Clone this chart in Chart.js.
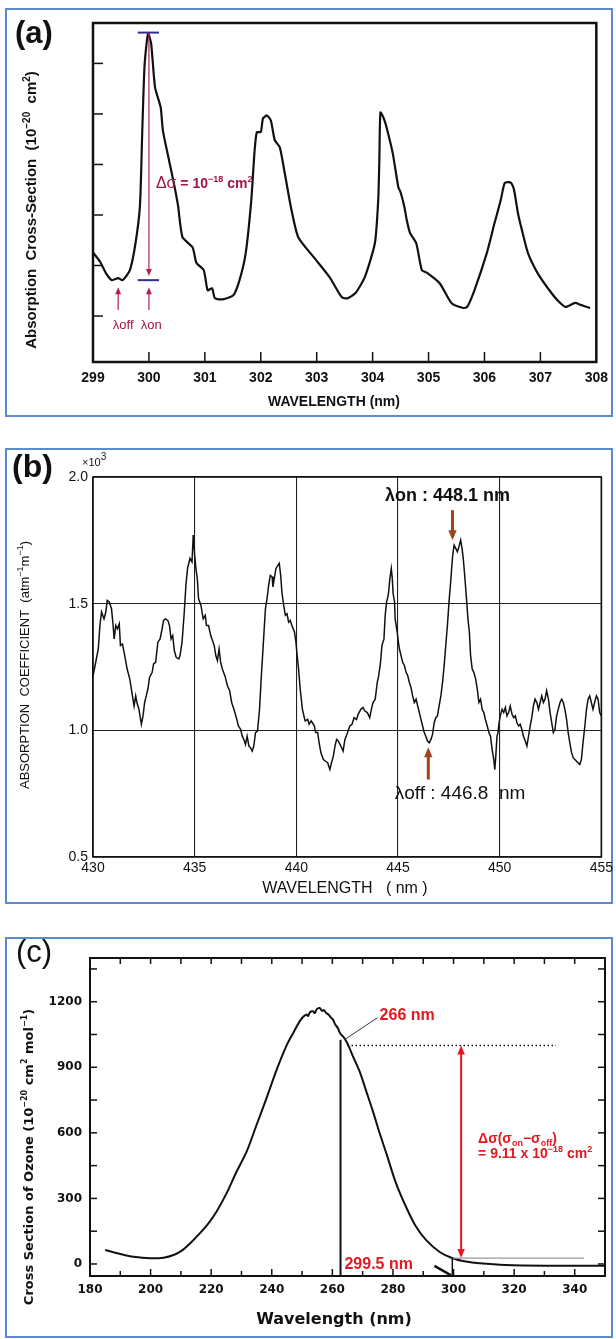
<!DOCTYPE html>
<html>
<head>
<meta charset="utf-8">
<title>Absorption spectra (a) (b) (c)</title>
<script src="https://cdn.jsdelivr.net/npm/chart.js@4.4.0/dist/chart.umd.min.js"></script>
<style>
  html, body { margin: 0; padding: 0; background: #fff; }
  #page { position: relative; width: 616px; height: 1339px; overflow: hidden; }
  .box { position: absolute; left: 5px; width: 608px; border: 2px solid #5b8ad0; box-sizing: border-box; }
  canvas { position: absolute; left: 0; }
</style>
</head>
<body>
<div id="page">
  <div class="box" style="top:8px;height:409px"></div>
  <div class="box" style="top:448px;height:456px"></div>
  <div class="box" style="top:937px;height:401px"></div>
  <canvas id="chartA" width="616" height="408" style="top:8px"></canvas>
  <canvas id="chartB" width="616" height="455" style="top:448px"></canvas>
  <canvas id="chartC" width="616" height="402" style="top:937px"></canvas>
</div>
<script>
const SANS = "'Liberation Sans', Arial, sans-serif";
const DEJA = "'DejaVu Sans', Verdana, sans-serif";

// (a) absorption cross-section around 300 nm (no y numbers in the original)
const waveA = [299.00, 299.13, 299.23, 299.34, 299.45, 299.53, 299.66, 299.76, 299.84, 299.88,
  299.92, 299.97, 299.99, 300.04, 300.11, 300.21, 300.25, 300.36, 300.46, 300.52,
  300.60, 300.78, 300.85, 300.98, 301.05, 301.13, 301.18, 301.32, 301.51, 301.62,
  301.73, 301.83, 301.89, 301.93, 302.00, 302.04, 302.11, 302.18, 302.25, 302.34,
  302.43, 302.54, 302.67, 302.95, 303.23, 303.45, 303.55, 303.69, 303.86, 304.04,
  304.10, 304.12, 304.14, 304.20, 304.25, 304.36, 304.46, 304.50, 304.57, 304.61,
  304.67, 304.78, 304.88, 304.98, 305.20, 305.41, 305.62, 305.69, 305.82, 306.04,
  306.18, 306.29, 306.36, 306.43, 306.48, 306.53, 306.60, 306.67, 306.78, 306.95,
  307.16, 307.30, 307.45, 307.62, 307.72, 307.89];
const crossA = [2.26, 2.07, 1.85, 1.71, 1.75, 1.71, 1.91, 2.44, 3.19, 4.62,
  5.92, 6.51, 6.59, 6.39, 5.52, 5.13, 4.67, 4.08, 3.55, 3.19,
  2.56, 2.36, 2.05, 1.91, 1.51, 1.55, 1.35, 1.33, 1.41, 1.71,
  2.24, 3.29, 4.28, 4.64, 4.64, 4.91, 4.97, 4.87, 4.48, 4.34,
  3.82, 3.15, 2.56, 2.16, 1.77, 1.37, 1.35, 1.45, 1.77, 2.44,
  3.29, 4.08, 5.03, 4.91, 4.73, 4.22, 3.55, 3.45, 3.15, 2.90,
  2.64, 2.44, 1.91, 1.85, 1.65, 1.26, 1.16, 1.18, 1.51, 2.24,
  2.84, 3.29, 3.63, 3.65, 3.63, 3.49, 3.03, 2.70, 2.24, 1.85,
  1.51, 1.32, 1.18, 1.26, 1.22, 1.16];
const ticksXA = [299, 300, 301, 302, 303, 304, 305, 306, 307, 308];
const ticksYA = [1, 2, 3, 4, 5, 6];

// (b) absorption coefficient, x10^3 atm-1 m-1
const waveB = [430.00, 430.10, 430.26, 430.34, 430.42, 430.54, 430.63, 430.70, 430.80, 430.91,
  430.99, 431.04, 431.12, 431.20, 431.29, 431.35, 431.45, 431.56, 431.68, 431.81,
  431.94, 432.02, 432.10, 432.16, 432.26, 432.38, 432.46, 432.54, 432.62, 432.70,
  432.78, 432.91, 432.98, 433.08, 433.19, 433.30, 433.40, 433.47, 433.56, 433.68,
  433.76, 433.84, 433.92, 434.00, 434.09, 434.22, 434.28, 434.38, 434.49, 434.57,
  434.65, 434.77, 434.87, 434.93, 435.00, 435.06, 435.13, 435.19, 435.31, 435.42,
  435.52, 435.58, 435.68, 435.79, 435.88, 435.96, 436.04, 436.12, 436.20, 436.28,
  436.36, 436.49, 436.61, 436.72, 436.82, 436.93, 437.05, 437.15, 437.26, 437.34,
  437.42, 437.50, 437.58, 437.67, 437.75, 437.83, 437.91, 437.99, 438.09, 438.19,
  438.28, 438.40, 438.48, 438.56, 438.64, 438.72, 438.81, 438.85, 438.94, 439.00,
  439.10, 439.16, 439.23, 439.29, 439.38, 439.46, 439.54, 439.62, 439.70, 439.78,
  439.91, 439.98, 440.04, 440.11, 440.19, 440.30, 440.43, 440.56, 440.63, 440.73,
  440.79, 440.89, 440.95, 441.05, 441.12, 441.21, 441.33, 441.44, 441.54, 441.65,
  441.73, 441.82, 441.90, 441.98, 442.06, 442.19, 442.30, 442.39, 442.52, 442.63,
  442.74, 442.84, 442.96, 443.04, 443.17, 443.28, 443.36, 443.49, 443.61, 443.69,
  443.77, 443.88, 443.98, 444.05, 444.14, 444.21, 444.31, 444.37, 444.44, 444.50,
  444.54, 444.60, 444.67, 444.72, 444.76, 444.83, 444.86, 444.91, 444.96, 445.02,
  445.07, 445.15, 445.23, 445.32, 445.40, 445.48, 445.56, 445.64, 445.72, 445.80,
  445.89, 445.97, 446.05, 446.13, 446.21, 446.29, 446.37, 446.45, 446.54, 446.62,
  446.70, 446.78, 446.86, 446.94, 447.02, 447.11, 447.19, 447.27, 447.35, 447.43,
  447.51, 447.59, 447.64, 447.69, 447.76, 447.84, 447.92, 448.00, 448.08, 448.15,
  448.21, 448.28, 448.33, 448.38, 448.44, 448.51, 448.57, 448.65, 448.73, 448.82,
  448.90, 448.98, 449.06, 449.14, 449.22, 449.30, 449.39, 449.47, 449.55, 449.63,
  449.71, 449.76, 449.81, 449.87, 449.92, 449.97, 450.03, 450.12, 450.20, 450.28,
  450.36, 450.44, 450.52, 450.61, 450.69, 450.77, 450.85, 450.93, 451.01, 451.09,
  451.17, 451.26, 451.34, 451.42, 451.50, 451.58, 451.66, 451.74, 451.83, 451.91,
  451.99, 452.07, 452.15, 452.23, 452.31, 452.40, 452.48, 452.56, 452.64, 452.72,
  452.80, 452.88, 452.97, 453.05, 453.13, 453.21, 453.29, 453.37, 453.45, 453.54,
  453.62, 453.70, 453.78, 453.86, 453.94, 454.02, 454.10, 454.19, 454.27, 454.35,
  454.43, 454.51, 454.59, 454.67, 454.76, 454.84, 454.92, 455.00];
const absB = [1.215, 1.255, 1.321, 1.414, 1.467, 1.440, 1.467, 1.513, 1.507, 1.480,
  1.414, 1.361, 1.414, 1.401, 1.421, 1.335, 1.341, 1.295, 1.242, 1.202,
  1.136, 1.096, 1.136, 1.110, 1.083, 1.024, 1.057, 1.110, 1.136, 1.163,
  1.209, 1.229, 1.262, 1.268, 1.348, 1.361, 1.401, 1.434, 1.440, 1.434,
  1.414, 1.361, 1.374, 1.315, 1.288, 1.282, 1.295, 1.348, 1.467, 1.573,
  1.639, 1.679, 1.665, 1.771, 1.692, 1.639, 1.599, 1.520, 1.493, 1.440,
  1.454, 1.414, 1.414, 1.374, 1.354, 1.335, 1.295, 1.275, 1.321, 1.268,
  1.242, 1.215, 1.176, 1.156, 1.110, 1.083, 1.050, 1.017, 1.004, 0.977,
  0.964, 0.944, 0.977, 0.938, 0.931, 0.918, 0.938, 0.991, 0.997, 1.083,
  1.215, 1.374, 1.480, 1.520, 1.573, 1.612, 1.606, 1.566, 1.612, 1.639,
  1.652, 1.659, 1.612, 1.546, 1.493, 1.454, 1.460, 1.427, 1.434, 1.414,
  1.388, 1.348, 1.295, 1.242, 1.163, 1.083, 1.037, 1.043, 1.024, 1.037,
  1.030, 1.017, 0.991, 0.991, 0.951, 0.911, 0.885, 0.878, 0.872, 0.845,
  0.872, 0.898, 0.938, 0.964, 0.958, 0.938, 0.918, 0.964, 0.991, 1.017,
  1.024, 1.050, 1.043, 1.063, 1.083, 1.090, 1.077, 1.070, 1.050, 1.083,
  1.110, 1.123, 1.189, 1.215, 1.268, 1.335, 1.361, 1.454, 1.507, 1.526,
  1.546, 1.599, 1.639, 1.599, 1.540, 1.507, 1.440, 1.414, 1.388, 1.348,
  1.321, 1.295, 1.268, 1.255, 1.229, 1.215, 1.189, 1.169, 1.136, 1.110,
  1.123, 1.096, 1.070, 1.043, 1.017, 0.991, 0.977, 0.958, 0.951, 0.964,
  0.984, 1.030, 1.050, 1.057, 1.096, 1.136, 1.189, 1.255, 1.335, 1.414,
  1.507, 1.586, 1.639, 1.692, 1.731, 1.718, 1.705, 1.725, 1.751, 1.718,
  1.679, 1.612, 1.560, 1.507, 1.440, 1.388, 1.295, 1.242, 1.229, 1.202,
  1.163, 1.110, 1.123, 1.083, 1.070, 1.043, 1.017, 0.991, 0.977, 0.924,
  0.885, 0.845, 0.898, 0.977, 0.991, 1.030, 1.057, 1.083, 1.070, 1.090,
  1.057, 1.070, 1.096, 1.063, 1.050, 1.057, 1.030, 1.017, 1.024, 1.004,
  0.977, 0.958, 0.938, 0.977, 1.017, 1.050, 1.096, 1.123, 1.110, 1.083,
  1.110, 1.136, 1.110, 1.123, 1.156, 1.123, 1.070, 1.030, 0.991, 1.004,
  1.057, 1.083, 1.110, 1.123, 1.110, 1.083, 1.043, 0.991, 0.951, 0.911,
  0.891, 0.885, 0.878, 0.872, 0.865, 0.885, 0.951, 1.017, 1.083, 1.123,
  1.136, 1.110, 1.083, 1.110, 1.136, 1.123, 1.070, 1.057];
const ticksXB = [430, 435, 440, 445, 450, 455];
const ticksYB = [0.5, 1.0, 1.5, 2.0];

// (c) ozone cross section, 10^-20 cm2 mol-1
const waveC = [185, 190, 194.4, 199.9, 204.3, 207.6, 210.3, 213.6, 216.3, 219.1,
  221.8, 225.1, 228.4, 231.7, 235, 238.3, 241.6, 244.9, 247, 249.2,
  250.3, 251.4, 252, 252.6, 253.6, 254.2, 254.8, 255.8, 256.6, 257.2,
  258, 258.8, 259.5, 260.2, 261, 261.8, 262.6, 263.5, 264.6, 265.6,
  266.8, 269, 271.2, 273.4, 275.6, 277.8, 281, 284.3, 287.6, 290.9,
  295.3, 299.7, 304.1, 308.5, 317.2, 330.4, 350];
const crossC = [64, 46, 33, 26, 29, 41, 61, 102, 141, 186,
  240, 324, 423, 514, 637, 760, 888, 1000, 1055, 1110,
  1130, 1141, 1135, 1152, 1156, 1148, 1165, 1171, 1158, 1162,
  1148, 1140, 1128, 1118, 1095, 1080, 1055, 1041, 1019, 990,
  950, 881, 790, 698, 599, 507, 370, 262, 171, 110,
  56, 26, 11, 3, -5, -8, -8];
const ticksXC = [180, 200, 220, 240, 260, 280, 300, 320, 340];
const ticksYC = [0, 300, 600, 900, 1200];

function pts(xs, ys) { return xs.map((x, i) => ({ x: x, y: ys[i] })); }

function seg(ctx, x1, y1, x2, y2) {
  ctx.beginPath(); ctx.moveTo(x1, y1); ctx.lineTo(x2, y2); ctx.stroke();
}

function head(ctx, x, y, ang, size) {
  ctx.save();
  ctx.translate(x, y); ctx.rotate(ang);
  ctx.beginPath(); ctx.moveTo(0, 0); ctx.lineTo(-size, -size * 0.42); ctx.lineTo(-size, size * 0.42);
  ctx.closePath(); ctx.fill();
  ctx.restore();
}

function arrow(ctx, x1, y1, x2, y2, size, both) {
  const ang = Math.atan2(y2 - y1, x2 - x1);
  const ux = Math.cos(ang) * size * 0.8, uy = Math.sin(ang) * size * 0.8;
  seg(ctx, both ? x1 + ux : x1, both ? y1 + uy : y1, x2 - ux, y2 - uy);
  head(ctx, x2, y2, ang, size);
  if (both) head(ctx, x1, y1, ang + Math.PI, size);
}

// parts: [text, size, weight, rise]
function rich(ctx, x, y, parts, family, align) {
  ctx.textAlign = 'left'; ctx.textBaseline = 'alphabetic';
  let w = 0;
  parts.forEach(p => { ctx.font = p[2] + ' ' + p[1] + 'px ' + family; w += ctx.measureText(p[0]).width; });
  let cx = align === 'center' ? x - w / 2 : x;
  parts.forEach(p => {
    ctx.font = p[2] + ' ' + p[1] + 'px ' + family;
    ctx.fillText(p[0], cx, y - p[3]);
    cx += ctx.measureText(p[0]).width;
  });
}

function vtitle(ctx, x, y, parts, family) {
  ctx.save(); ctx.translate(x, y); ctx.rotate(-Math.PI / 2);
  rich(ctx, 0, 0, parts, family, 'center');
  ctx.restore();
}

function axes(chart) {
  const sx = chart.scales.x, sy = chart.scales.y;
  return { ctx: chart.ctx, a: chart.chartArea, X: v => sx.getPixelForValue(v), Y: v => sy.getPixelForValue(v), sx, sy };
}

const decorA = {
  id: 'decorA',
  afterDraw(chart) {
    const { ctx, a, X, Y, sx, sy } = axes(chart);
    ctx.save();
    ctx.strokeStyle = '#111'; ctx.lineWidth = 2.5;
    ctx.strokeRect(a.left, a.top, a.width, a.height);
    ctx.lineWidth = 1.5;
    sx.ticks.forEach(t => { if (t.value > sx.min && t.value < sx.max) seg(ctx, X(t.value), a.bottom, X(t.value), a.bottom - 10); });
    sy.ticks.forEach(t => seg(ctx, a.left, Y(t.value), a.left + 10, Y(t.value)));

    // delta sigma marker
    ctx.strokeStyle = '#2e2e96'; ctx.lineWidth = 2;
    seg(ctx, X(299.8), Y(6.61), X(300.18), Y(6.61));
    seg(ctx, X(299.8), Y(1.71), X(300.18), Y(1.71));
    ctx.strokeStyle = ctx.fillStyle = '#b02048'; ctx.lineWidth = 1.2;
    arrow(ctx, X(300.0), Y(6.61), X(300.0), Y(1.79), 7, false);
    arrow(ctx, X(299.45), Y(1.12), X(299.45), Y(1.57), 7, false);
    arrow(ctx, X(300.0), Y(1.12), X(300.0), Y(1.57), 7, false);

    ctx.fillStyle = '#a3153f';
    rich(ctx, X(300.125), Y(3.63) + 5, [['Δσ', 16, 'normal', 0], [' = 10', 14, 'bold', 0], ['−18', 9, 'bold', 6], [' cm', 14, 'bold', 0], ['2', 9, 'bold', 6]], SANS, 'left');
    rich(ctx, X(299.54), Y(0.82) + 4, [['λoff', 13, 'normal', 0]], SANS, 'center');
    rich(ctx, X(300.04), Y(0.82) + 4, [['λon', 13, 'normal', 0]], SANS, 'center');

    ctx.fillStyle = '#111';
    rich(ctx, 334, 398, [['WAVELENGTH (nm)', 14, 'bold', 0]], SANS, 'center');
    vtitle(ctx, 36, 202, [['Absorption  Cross-Section  (10', 15, 'bold', 0], ['−20', 10, 'bold', 6], ['  cm', 15, 'bold', 0], ['2', 10, 'bold', 6], [')', 15, 'bold', 0]], SANS);
    rich(ctx, 15, 35, [['(a)', 31, 'bold', 0]], SANS, 'left');
    ctx.restore();
  }
};

const decorB = {
  id: 'decorB',
  afterDraw(chart) {
    const { ctx, a, X, Y } = axes(chart);
    ctx.save();
    ctx.strokeStyle = '#111'; ctx.lineWidth = 1.6;
    ctx.strokeRect(a.left, a.top, a.width, a.height);

    ctx.fillStyle = '#111';
    rich(ctx, a.left - 11, a.top - 11, [['×10', 11, 'normal', 0], ['3', 10, 'normal', 6]], SANS, 'left');
    rich(ctx, X(444.36), Y(1.929) + 6, [['λon : 448.1 nm', 18, 'bold', 0]], SANS, 'left');
    rich(ctx, X(444.84), Y(0.754) + 6, [['λoff : 446.8  nm', 19, 'normal', 0]], SANS, 'left');

    ctx.strokeStyle = ctx.fillStyle = '#a0441c'; ctx.lineWidth = 3;
    arrow(ctx, X(447.68), Y(1.869), X(447.68), Y(1.75), 10, false);
    arrow(ctx, X(446.49), Y(0.806), X(446.49), Y(0.933), 10, false);

    ctx.fillStyle = '#111';
    rich(ctx, 345, 445, [['WAVELENGTH   ( nm )', 16, 'normal', 0]], SANS, 'center');
    vtitle(ctx, 28.5, 217, [['ABSORPTION  COEFFICIENT  (atm', 13, 'normal', 0], ['−1', 9, 'normal', 6], ['m', 13, 'normal', 0], ['−1', 9, 'normal', 6], [')', 13, 'normal', 0]], SANS);
    rich(ctx, 12, 29, [['(b)', 32, 'bold', 0]], SANS, 'left');
    ctx.restore();
  }
};

const decorC = {
  id: 'decorC',
  afterDraw(chart) {
    const { ctx, a, X, Y } = axes(chart);
    ctx.save();
    ctx.strokeStyle = '#111'; ctx.lineWidth = 2;
    ctx.strokeRect(a.left, a.top, a.width, a.height);
    ctx.lineWidth = 1.5;
    for (let w = 190; w < 350; w += 10) {
      const len = w % 20 === 0 ? 7 : 5;
      seg(ctx, X(w), a.bottom, X(w), a.bottom - len);
      seg(ctx, X(w), a.top, X(w), a.top + 6);
    }
    for (let v = 0; v < 1400; v += 150) {
      seg(ctx, a.left, Y(v), a.left + 7, Y(v));
      seg(ctx, a.right, Y(v), a.right - 7, Y(v));
    }

    // on / off markers
    ctx.lineWidth = 2;
    seg(ctx, X(262.7), Y(1026), X(262.7), a.bottom);
    ctx.strokeStyle = '#333'; ctx.lineWidth = 1;
    seg(ctx, X(274.9), Y(1127), X(264.0), Y(1026));
    ctx.strokeStyle = '#111'; ctx.lineWidth = 1.5; ctx.setLineDash([1.5, 2.5]);
    seg(ctx, X(265), Y(1000), X(333.8), Y(1000));
    ctx.setLineDash([]);
    ctx.strokeStyle = '#9a9a9a'; ctx.lineWidth = 1.2;
    seg(ctx, X(299.6), Y(27), X(343), Y(27));
    ctx.strokeStyle = '#111'; ctx.lineWidth = 1.5;
    seg(ctx, X(299.6), Y(27), X(299.6), a.bottom);
    ctx.lineWidth = 2.5;
    seg(ctx, X(293.7), Y(-9), X(299.2), Y(-52));
    ctx.strokeStyle = ctx.fillStyle = '#e3191f'; ctx.lineWidth = 2;
    arrow(ctx, X(302.5), Y(27), X(302.5), Y(1000), 9, true);

    ctx.fillStyle = '#e3191f';
    rich(ctx, X(275.6), Y(1145) + 6, [['266 nm', 16, 'bold', 0]], SANS, 'left');
    rich(ctx, X(264), Y(5) + 6, [['299.5 nm', 16, 'bold', 0]], SANS, 'left');
    rich(ctx, X(308.1), Y(577) + 5, [['Δσ(σ', 14, 'bold', 0], ['on', 9, 'bold', -3], ['−σ', 14, 'bold', 0], ['off', 9, 'bold', -3], [')', 14, 'bold', 0]], SANS, 'left');
    rich(ctx, X(308.1), Y(508) + 5, [['= 9.11 x 10', 14, 'bold', 0], ['−18', 9, 'bold', 6], [' cm', 14, 'bold', 0], ['2', 9, 'bold', 6]], SANS, 'left');

    ctx.fillStyle = '#111';
    rich(ctx, 334, 387, [['Wavelength (nm)', 16, 'bold', 0]], DEJA, 'center');
    vtitle(ctx, 33, 220, [['Cross Section of Ozone (10', 13, 'bold', 0], ['−20', 8, 'bold', 6], [' cm', 13, 'bold', 0], ['2', 8, 'bold', 6], [' mol', 13, 'bold', 0], ['−1', 8, 'bold', 6], [')', 13, 'bold', 0]], DEJA);
    rich(ctx, 16, 25, [['(c)', 31, 'normal', 0]], SANS, 'left');
    ctx.restore();
  }
};

function baseScale(min, max, tickList, fit) {
  return {
    type: 'linear', min: min, max: max,
    afterBuildTicks: s => { s.ticks = tickList.map(v => ({ value: v })); },
    afterFit: fit,
    grid: { display: false, drawTicks: false },
    border: { display: false }
  };
}

function common(pad) {
  return {
    responsive: false, animation: false, events: [],
    layout: { padding: pad },
    plugins: { legend: { display: false }, tooltip: { enabled: false } }
  };
}

// (a)
const sxA = baseScale(299, 308, ticksXA, s => { s.height = 54; });
sxA.ticks = { padding: 8, color: '#111', maxRotation: 0, autoSkip: false, font: { family: SANS, size: 14, weight: 'bold' }, callback: v => String(v) };
const syA = baseScale(0.09, 6.8, ticksYA, s => { s.width = 93; });
syA.ticks = { display: false };
new Chart(document.getElementById('chartA'), {
  type: 'scatter',
  data: { datasets: [{ data: pts(waveA, crossA), showLine: true, borderColor: '#111', borderWidth: 2.2, pointRadius: 0, tension: 0.2 }] },
  options: Object.assign(common({ top: 15, right: 19, left: 0, bottom: 0 }), { scales: { x: sxA, y: syA } }),
  plugins: [decorA]
});

// (b)
const sxB = baseScale(430, 455, ticksXB, s => { s.height = 46; });
sxB.grid = { display: true, drawTicks: false, color: '#222', lineWidth: 1.1 };
sxB.ticks = { padding: 3, color: '#111', maxRotation: 0, autoSkip: false, font: { family: SANS, size: 14 }, callback: v => String(v) };
const syB = baseScale(0.5, 2.0, ticksYB, s => { s.width = 93; });
syB.grid = { display: true, drawTicks: false, color: '#222', lineWidth: 1.1 };
syB.ticks = { padding: 5, color: '#111', font: { family: SANS, size: 14 }, callback: v => v.toFixed(1) };
new Chart(document.getElementById('chartB'), {
  type: 'scatter',
  data: { datasets: [{ data: pts(waveB, absB), showLine: true, borderColor: '#111', borderWidth: 1.5, pointRadius: 0, tension: 0 }] },
  options: Object.assign(common({ top: 29, right: 11, left: 0, bottom: 0 }), { scales: { x: sxB, y: syB } }),
  plugins: [decorB]
});

// (c)
const sxC = baseScale(180, 350, ticksXC, s => { s.height = 63; });
sxC.ticks = { padding: 7, color: '#111', maxRotation: 0, autoSkip: false, font: { family: DEJA, size: 12, weight: 'bold' }, callback: v => String(v) };
const syC = baseScale(-55, 1400, ticksYC, s => { s.width = 90; });
syC.ticks = { padding: 8, color: '#111', font: { family: DEJA, size: 12, weight: 'bold' }, callback: v => String(v) };
new Chart(document.getElementById('chartC'), {
  type: 'scatter',
  data: { datasets: [{ data: pts(waveC, crossC), showLine: true, borderColor: '#111', borderWidth: 2, pointRadius: 0, tension: 0.3 }] },
  options: Object.assign(common({ top: 21, right: 11, left: 0, bottom: 0 }), { scales: { x: sxC, y: syC } }),
  plugins: [decorC]
});
</script>
</body>
</html>
